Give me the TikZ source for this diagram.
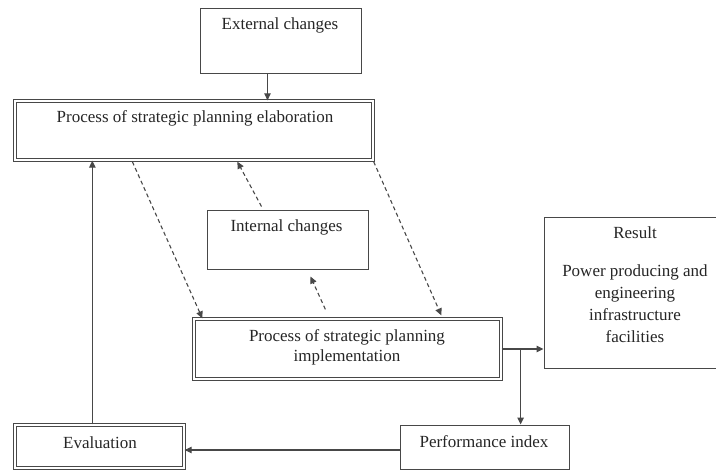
\documentclass[tikz,border=0pt]{standalone}
\usepackage{fontspec}
\setmainfont{Liberation Serif}
\usetikzlibrary{arrows.meta,calc}
\definecolor{lc}{HTML}{484848}
\definecolor{tc}{HTML}{262626}
\begin{document}
\begin{tikzpicture}[x=1pt,y=-1pt,
  box/.style={draw=lc, line width=1pt, fill=white, inner sep=0pt, rectangle},
  dbox/.style={draw=lc, line width=1.3pt, double=white, double distance=1.8pt, inner sep=0pt, rectangle},
  txt/.style={font=\fontsize{17}{20}\selectfont, text=tc, inner sep=0pt, align=center},
  arr/.style={draw=lc, line width=1.1pt, -{Triangle[length=7pt,width=6.5pt]}, color=lc},
  darr/.style={arr, dash pattern=on 4pt off 3pt},
  plain/.style={draw=lc, line width=1.1pt}]
\path[use as bounding box] (0,0) rectangle (716,471);

% boxes
\node[box, minimum width=161pt, minimum height=65pt] (ext) at (280.5,40.5) {};
\node[dbox, minimum width=358pt, minimum height=59pt] (elab) at (194,130.5) {};
\node[box, minimum width=161pt, minimum height=59pt] (int) at (287.5,239.5) {};
\node[dbox, minimum width=307pt, minimum height=60pt] (impl) at (347.5,349) {};
\node[box, minimum width=176pt, minimum height=151pt] (res) at (632,292.5) {};
\node[dbox, minimum width=169pt, minimum height=43pt] (eval) at (99.5,446.5) {};
\node[box, minimum width=169pt, minimum height=44pt] (perf) at (484.5,447) {};

% texts
\node[txt] (t-ext) at (280,25) {External changes};
\node[txt] (t-elab) at (195,118) {Process of strategic planning elaboration};
\node[txt] (t-int) at (286.5,227) {Internal changes};
\node[txt] (t-impl) at (347,347) {Process of strategic planning\\implementation};
\node[txt] (t-res) at (635,233) {Result};
\node[txt, font=\fontsize{17}{22}\selectfont] (t-res2) at (635,304) {Power producing and\\engineering\\infrastructure\\facilities};
\node[txt] (t-eval) at (100,443) {Evaluation};
\node[txt] (t-perf) at (484,442) {Performance index};

% solid connectors
\coordinate (a1) at ($(ext.south west)+(68,0)$);
\draw[arr] (a1) -- (a1 |- elab.north);
\coordinate (a2) at ($(eval.north west)+(78,0)$);
\draw[arr] (a2) -- (a2 |- elab.south);
\draw[arr] (impl.east) -- (impl.east -| res.west);
\coordinate (br) at ($(impl.east)+(19,0)$);
\draw[arr] (br) -- (br |- perf.north);
\coordinate (pw) at ($(perf.west)+(0,3)$);
\draw[arr] (pw) -- (pw -| eval.east);

% dashed connectors
\draw[darr] ($(elab.south west)+(118,1)$) -- ($(impl.north west)+(9,0)$);
\draw[darr] ($(int.north west)+(55,-3)$) -- ($(elab.south west)+(223,1)$);
\draw[darr] ($(impl.north west)+(132,-9)$) -- ($(int.south west)+(104,7)$);
\draw[darr] ($(elab.south east)+(0,1)$) -- ($(impl.north west)+(248,-3)$);
\end{tikzpicture}
\end{document}
